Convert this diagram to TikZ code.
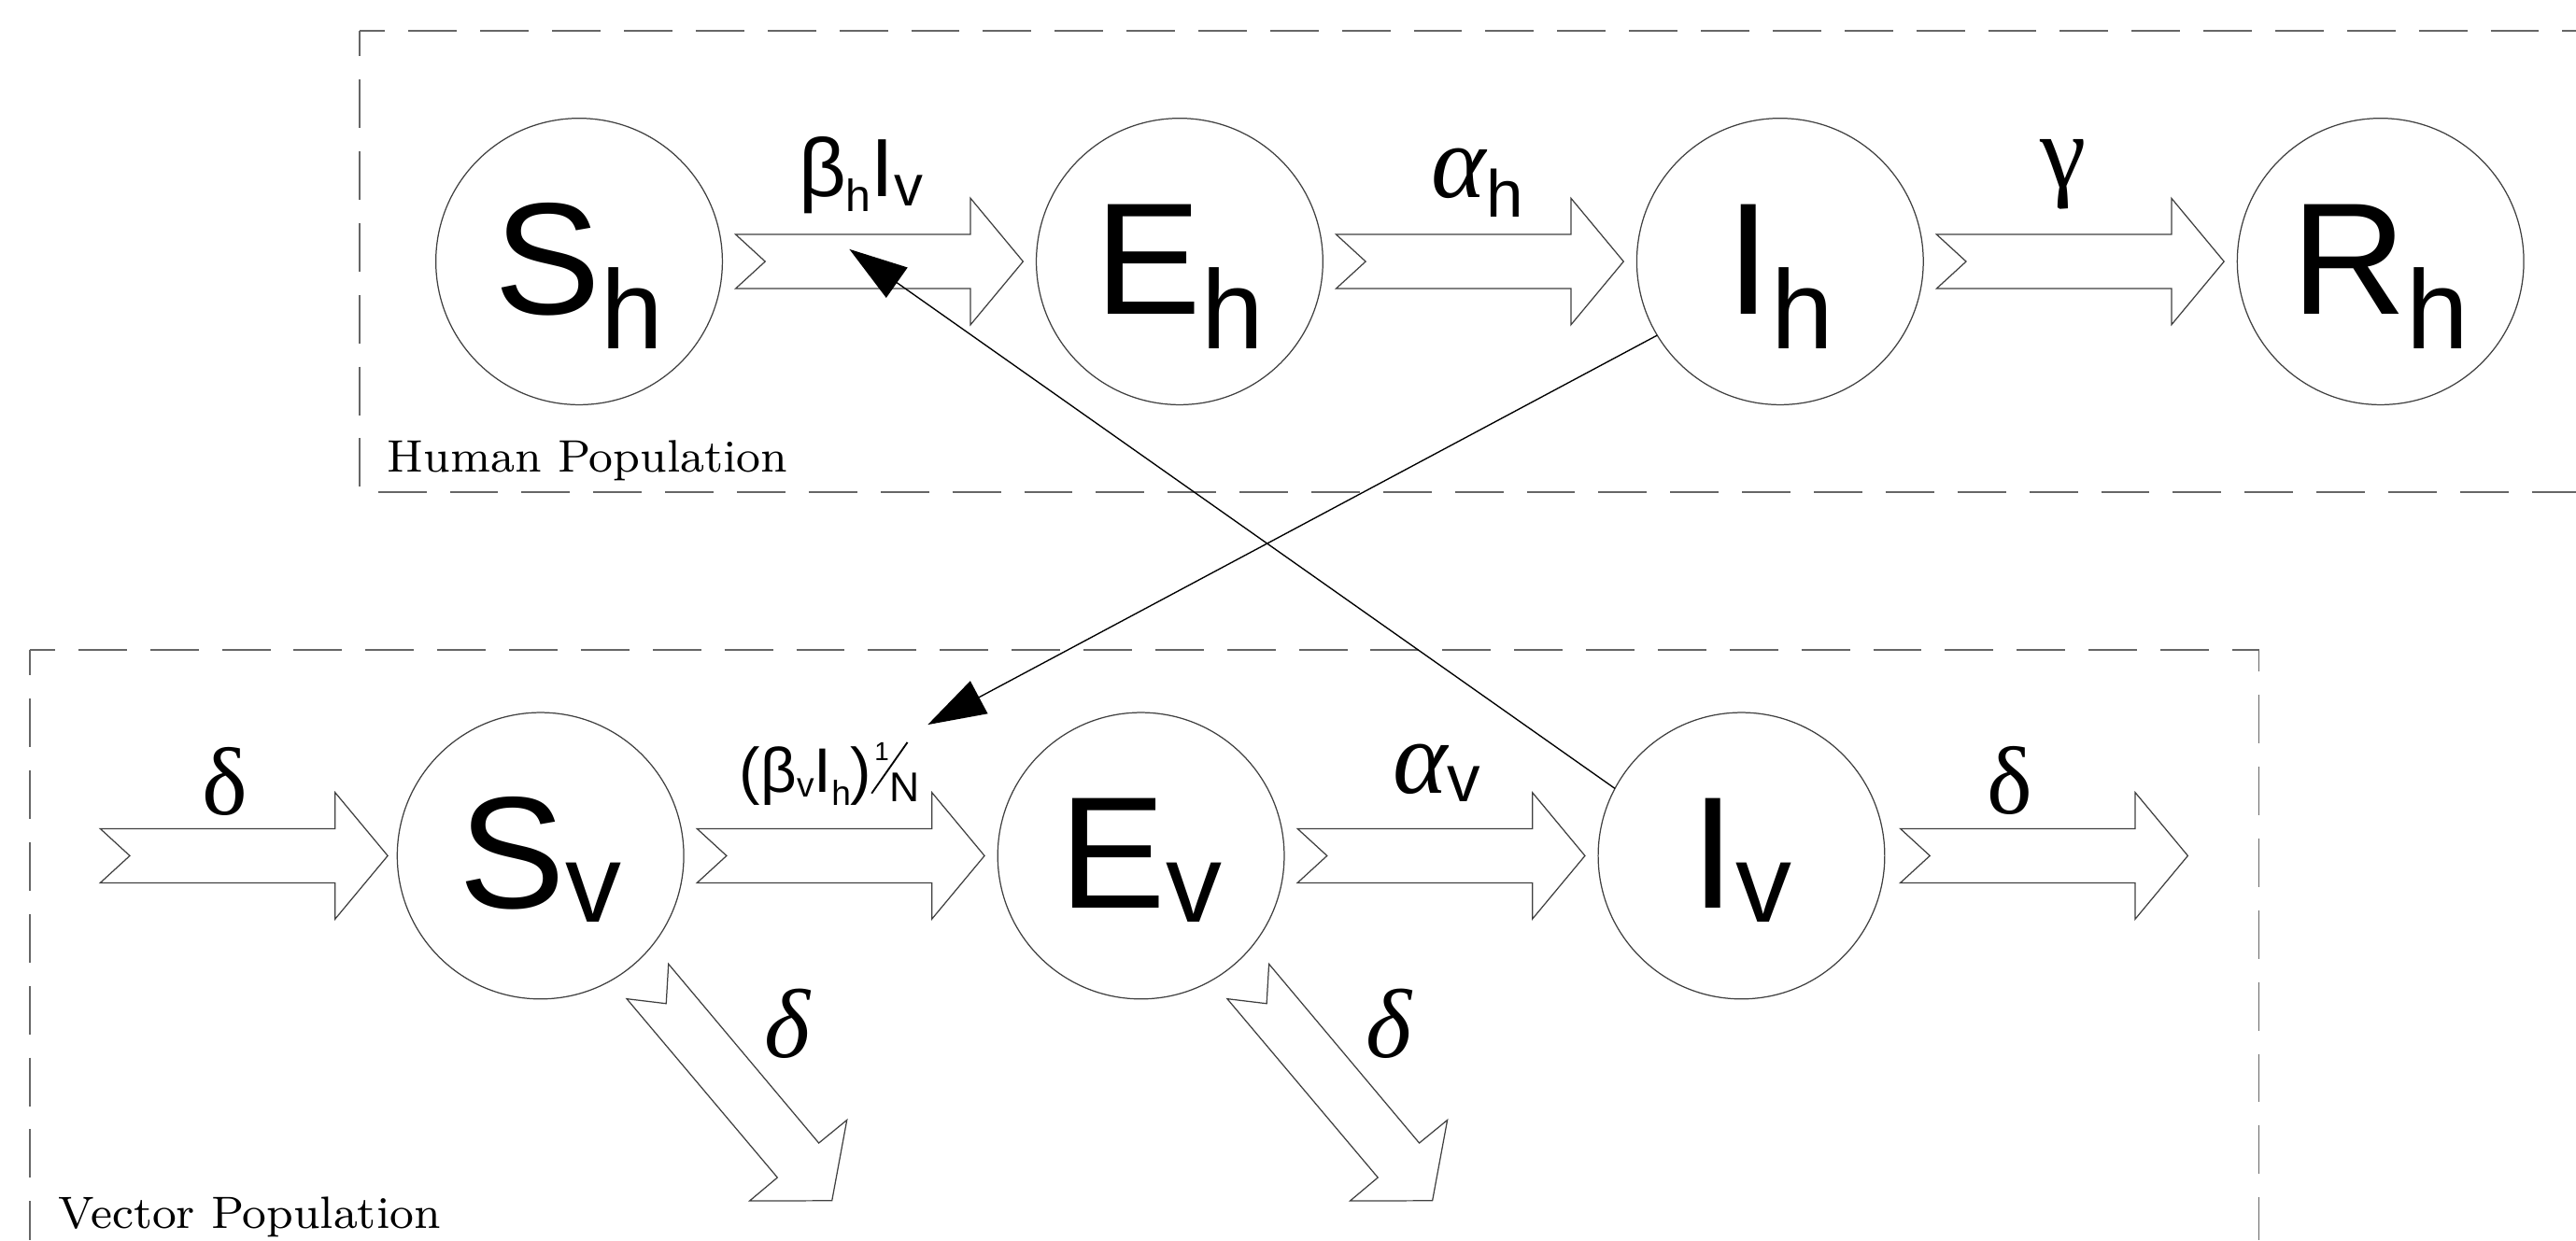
\documentclass[tikz,border=0pt]{standalone}
\usepackage{graphicx}
\usepackage{fontspec}
\newfontfamily\sansfam{Liberation Sans}
\newfontfamily\seriffam{Liberation Serif}
\usetikzlibrary{arrows.meta,positioning,calc}

\newcommand{\low}[3]{\raisebox{-#1}{\fontsize{#2}{#2}\selectfont #3}}
\newcommand{\comp}[3][6pt]{{\sansfam\fontsize{27.6}{30}\selectfont #2\low{#1}{19.4}{#3}}}

\begin{document}
\begin{tikzpicture}[
    comp/.style={circle, draw=black!75, line width=0.2pt, minimum size=1.744cm, inner sep=0pt, outer sep=0pt, text height=0.74cm, text depth=0.1cm},
    rate/.style={inner sep=0pt, anchor=base},
    box/.style={draw=black!60, line width=0.3pt, dash pattern=on 2.95mm off 1.42mm, dash phase=1.4mm},
    flow/.pic={\draw[black!75, line width=0.2pt, fill=white] (-0.875,0.165) -- (0.555,0.165) -- (0.555,0.385) -- (0.875,0) -- (0.555,-0.385) -- (0.555,-0.165) -- (-0.875,-0.165) -- (-0.695,0) -- cycle;},
    leave/.pic={\draw[black!75, line width=0.2pt, fill=white] (0.779,-0.659) -- (1.694,-1.749) -- (1.865,-1.609) -- (1.774,-2.10) -- (1.273,-2.101) -- (1.442,-1.959) -- (0.525,-0.871) -- (0.765,-0.90) -- cycle;},
    >={Triangle[length=3.54mm, width=2.24mm]}]
	\useasboundingbox (0,0) rectangle (15.68,-7.55);
	\draw[box] (2.19,-0.187) -- (15.68,-0.187);
	\draw[box] (2.19,-0.187) -- (2.19,-2.995) -- (15.68,-2.995);
	\draw[box] (0.18,-3.957) -- (13.75,-3.957) -- (13.75,-7.55);
	\draw[box] (0.18,-3.957) -- (0.18,-7.55);
	\node[anchor=base west, inner sep=0pt] (hum) at (2.35,-2.871) {\fontsize{7.88}{10}\selectfont Human Population};
	\node[anchor=base west, inner sep=0pt] (vec) at (0.351,-7.476) {\fontsize{7.85}{10}\selectfont Vector Population};
	\node[comp] (Sh) at (3.525,-1.592) {\comp{S}{h}};
	\node[comp, right=1.911cm of Sh] (Eh) {\comp{E}{h}};
	\node[comp, right=1.911cm of Eh] (Ih) {\comp{I}{h}};
	\node[comp, right=1.911cm of Ih] (Rh) {\comp{R}{h}};
	\node[comp] (Sv) at (3.29,-5.21) {\comp[2.45pt]{S}{v}};
	\node[comp, right=1.911cm of Sv] (Ev) {\comp[2.45pt]{E}{v}};
	\node[comp, right=1.911cm of Ev] (Iv) {\comp[2.45pt]{I}{v}};
	\coordinate[left=0.933cm of Sv] (birth);
	\coordinate[right=0.97cm of Iv] (death);
	\pic at ($(Sh.east)!0.5!(Eh.west)$) {flow};
	\pic at ($(Eh.east)!0.5!(Ih.west)$) {flow};
	\pic at ($(Ih.east)!0.5!(Rh.west)$) {flow};
	\pic at (birth) {flow};
	\pic at ($(Sv.east)!0.5!(Ev.west)$) {flow};
	\pic at ($(Ev.east)!0.5!(Iv.west)$) {flow};
	\pic at (death) {flow};
	\pic at (Sv) {leave};
	\pic at (Ev) {leave};
	\node[rate] (bh) at (5.24,-1.198) {\sansfam\fontsize{14.3}{16}\selectfont β\low{2.5pt}{7.8}{h}I\low{1.5pt}{10}{v}};
	\node[rate] (ah) at (8.993,-1.203) {\seriffam\itshape\fontsize{18}{18}\selectfont α\upshape\sansfam\low{3.4pt}{11.5}{h}};
	\node[rate] (gam) at (12.56,-1.14) {\seriffam\fontsize{18}{20}\selectfont γ};
	\node[rate] (din) at (1.37,-4.96) {\seriffam\fontsize{16.7}{18}\selectfont δ};
	\node[rate] (bv) at (5.05,-4.823) {\sansfam\fontsize{10.9}{12}\selectfont (β\low{0.8pt}{6}{v}I\low{2.3pt}{6}{h})\rlap{\kern0.5pt\raisebox{5.4pt}{\fontsize{4.5}{5}\selectfont 1}}\rlap{\kern-0.15pt\raisebox{-0.3pt}{\rotatebox{55}{\rule{3.8mm}{0.3pt}}}}\kern3.1pt\low{1.6pt}{7.2}{N}};
	\node[rate] (av) at (8.745,-4.83) {\seriffam\itshape\fontsize{18}{18}\selectfont α\upshape\sansfam\low{1.5pt}{11.5}{v}};
	\node[rate] (dout) at (12.236,-4.956) {\seriffam\fontsize{16.7}{18}\selectfont δ};
	\node[inner sep=0pt] (ds) at (4.795,-6.235) {\seriffam\itshape\fontsize{17}{18}\selectfont δ};
	\node[inner sep=0pt] (de) at (8.455,-6.235) {\seriffam\itshape\fontsize{17}{18}\selectfont δ};
	\coordinate (hitH) at (5.17,-1.517);
	\coordinate (hitV) at (5.647,-4.412);
	\draw[->, line width=0.22pt] (Iv.152) -- (hitH);
	\draw[->, line width=0.22pt] (Ih.211) -- (hitV);
\end{tikzpicture}
\end{document}
